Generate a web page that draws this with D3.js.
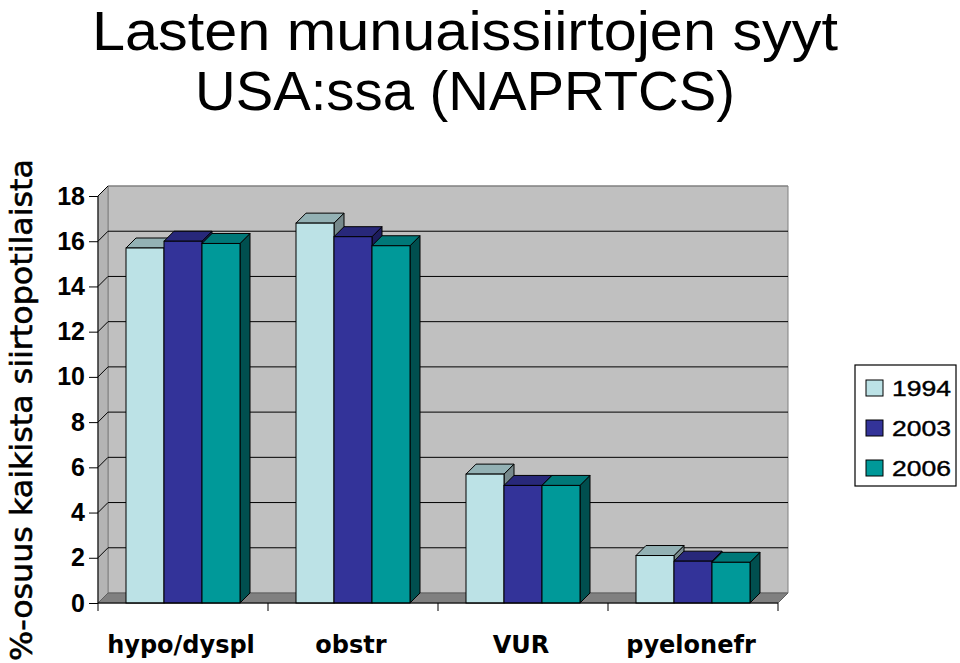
<!DOCTYPE html>
<html>
<head>
<meta charset="utf-8">
<script src="https://cdn.jsdelivr.net/npm/d3@7"></script>
<style>
  html, body { margin: 0; padding: 0; background: #fff; }
  svg { display: block; }
</style>
</head>
<body>
<svg id="chart" width="960" height="663"></svg>
<script>
// ---- data ----
const categories = ["hypo/dyspl", "obstr", "VUR", "pyelonefr"];
const series = ["1994", "2003", "2006"];
const values1994 = [15.7, 16.8, 5.7, 2.1];
const values2003 = [16.0, 16.2, 5.2, 1.85];
const values2006 = [15.9, 15.8, 5.2, 1.8];
const yTicks = [0, 2, 4, 6, 8, 10, 12, 14, 16, 18];
const titleLines = ["Lasten munuaissiirtojen syyt", "USA:ssa (NAPRTCS)"];
const yTitle = "%-osuus kaikista siirtopotilaista";

// ---- styles ----
const fills = {
  "1994": { front: "#BCE2E6", top: "#93B1B4", side: "#76898B" },
  "2003": { front: "#333399", top: "#28287A", side: "#1C1C5C" },
  "2006": { front: "#009999", top: "#007878", side: "#004F4F" }
};
const font = "'Liberation Sans', Arial, Helvetica, sans-serif";

(function () {
const svg = d3.select("#chart");
const DX = 10, DY = 10;
const pLeft = 98, pRight = 778, pBottom = 603, pTop = 196;

const x = d3.scaleBand().domain(categories).range([pLeft, pRight]);
const y = d3.scaleLinear().domain([0, 18]).range([pBottom, pTop]);
const xs = d3.scaleBand().domain(series).range([28, 142]);

const seriesValues = { "1994": values1994, "2003": values2003, "2006": values2006 };

// back wall
svg.append("polygon")
  .attr("points", [[pLeft + DX, y(18) - DY], [pRight + DX, y(18) - DY], [pRight + DX, pBottom - DY], [pLeft + DX, pBottom - DY]].join(" "))
  .attr("fill", "#C0C0C0").attr("stroke", "#808080").attr("stroke-width", 1);
// left wall
svg.append("polygon")
  .attr("points", [[pLeft, y(18)], [pLeft + DX, y(18) - DY], [pLeft + DX, pBottom - DY], [pLeft, pBottom]].join(" "))
  .attr("fill", "#B4B4B4").attr("stroke", "#808080").attr("stroke-width", 1);
// floor
svg.append("polygon")
  .attr("points", [[pLeft, pBottom], [pLeft + DX, pBottom - DY], [pRight + DX, pBottom - DY], [pRight, pBottom]].join(" "))
  .attr("fill", "#808080").attr("stroke", "#606060").attr("stroke-width", 1);

// gridlines
const grid = svg.append("g");
yTicks.filter(v => v > 0).forEach(v => {
  grid.append("line")
    .attr("x1", pLeft + DX).attr("x2", pRight + DX)
    .attr("y1", y(v) - DY).attr("y2", y(v) - DY)
    .attr("stroke", v === 18 ? "#808080" : "#000").attr("stroke-width", 1);
  grid.append("line")
    .attr("x1", pLeft).attr("x2", pLeft + DX)
    .attr("y1", y(v)).attr("y2", y(v) - DY)
    .attr("stroke", "#000").attr("stroke-width", 1);
});

// bars
const bars = svg.append("g");
categories.forEach((c, i) => {
  series.forEach(s => {
    const v = seriesValues[s][i];
    const x0 = x(c) + xs(s), x1 = x0 + xs.bandwidth();
    const yt = y(v), yb = y(0);
    const f = fills[s];
    bars.append("polygon")
      .attr("points", [[x1, yt], [x1 + DX, yt - DY], [x1 + DX, yb - DY], [x1, yb]].join(" "))
      .attr("fill", f.side).attr("stroke", "#000").attr("stroke-width", 1).attr("stroke-linejoin", "round");
    bars.append("polygon")
      .attr("points", [[x0, yt], [x0 + DX, yt - DY], [x1 + DX, yt - DY], [x1, yt]].join(" "))
      .attr("fill", f.top).attr("stroke", "#000").attr("stroke-width", 1).attr("stroke-linejoin", "round");
    bars.append("rect")
      .attr("x", x0).attr("y", yt).attr("width", xs.bandwidth()).attr("height", yb - yt)
      .attr("fill", f.front).attr("stroke", "#000").attr("stroke-width", 1);
  });
});

// y axis
const yAxis = svg.append("g").attr("transform", `translate(${pLeft},0)`)
  .call(d3.axisLeft(y).tickValues(yTicks).tickSize(9).tickPadding(4).tickFormat(d3.format("d")));
yAxis.select(".domain").attr("stroke", "#000").attr("d", `M0,${pTop}V${pBottom}`);
yAxis.selectAll(".tick line").attr("stroke", "#000");
yAxis.selectAll(".tick text")
  .attr("font-family", font).attr("font-size", 25).attr("font-weight", "bold").attr("fill", "#000");

// x axis
const xAxis = svg.append("g").attr("transform", `translate(0,${pBottom})`);
xAxis.append("line").attr("x1", pLeft).attr("x2", pRight).attr("y1", 0).attr("y2", 0).attr("stroke", "#000");
categories.concat([null]).forEach(c => {
  const xx = c === null ? pRight : x(c);
  xAxis.append("line").attr("x1", xx).attr("x2", xx).attr("y1", 0).attr("y2", 8).attr("stroke", "#000");
});
categories.forEach(c => {
  xAxis.append("text")
    .attr("x", x(c) + x.bandwidth() / 2 - 2).attr("y", 50)
    .attr("text-anchor", "middle")
    .attr("font-family", "'DejaVu Sans', " + font).attr("font-size", 24).attr("font-weight", "bold")
    .attr("fill", "#000").text(c);
});

// title
const titleWidths = [746, 540];
titleLines.forEach((t, i) => {
  svg.append("text")
    .attr("x", 465).attr("y", 50 + i * 60)
    .attr("text-anchor", "middle")
    .attr("font-family", font).attr("font-size", 55)
    .attr("textLength", titleWidths[i]).attr("lengthAdjust", "spacingAndGlyphs")
    .attr("fill", "#000").text(t);
});

// y title
svg.append("text")
  .attr("transform", "translate(32,410) rotate(-90)")
  .attr("text-anchor", "middle")
  .attr("font-family", "'DejaVu Sans', " + font).attr("font-size", 31)
  .attr("stroke", "#000").attr("stroke-width", 0.6)
  .attr("textLength", 502).attr("lengthAdjust", "spacingAndGlyphs")
  .attr("fill", "#000").text(yTitle);

// legend
const lg = svg.append("g").attr("transform", "translate(855,365)");
lg.append("rect").attr("x", 0).attr("y", 0).attr("width", 101).attr("height", 121)
  .attr("fill", "#fff").attr("stroke", "#000").attr("stroke-width", 1.2);
series.forEach((s, i) => {
  const cy = 23 + i * 40;
  lg.append("rect").attr("x", 11).attr("y", cy - 8).attr("width", 17).attr("height", 16)
    .attr("fill", fills[s].front).attr("stroke", "#000").attr("stroke-width", 1);
  lg.append("text").attr("x", 37).attr("y", cy + 8)
    .attr("font-family", font).attr("font-size", 22)
    .attr("stroke", "#000").attr("stroke-width", 0.4)
    .attr("textLength", 59).attr("lengthAdjust", "spacingAndGlyphs")
    .attr("fill", "#000").text(s);
});
})();
</script>
</body>
</html>
